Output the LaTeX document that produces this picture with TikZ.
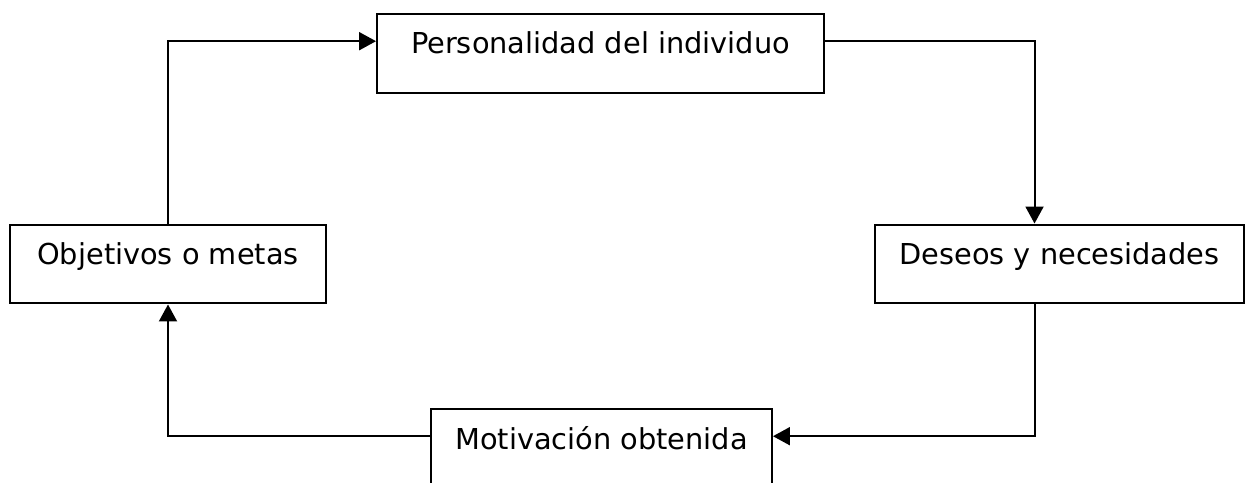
\documentclass[tikz,border=0pt]{standalone}
\usepackage{fontspec}
\setmainfont{DejaVu Sans}
\usetikzlibrary{positioning,arrows,arrows.meta,calc}
\tikzset{
  caja/.style={draw, line width=0.04cm, inner xsep=0pt, inner ysep=0pt,
    text height=0.8cm, text depth=0.78cm, font=\fontsize{16.4}{20}\selectfont},
  flecha/.style={line width=0.04cm, -{Triangle[length=0.34cm,width=0.36cm]}}
}
\begin{document}
\begin{tikzpicture}[x=0.02cm,y=-0.02cm]
        \useasboundingbox (0,0) rectangle (1250,483);
        \node[caja, minimum width=8.94cm] (pers) at (600.5,53.5) {Personalidad del individuo};
        \node[caja, minimum width=6.32cm] (obj) at (168,264) {Objetivos o metas};
        \node[caja, minimum width=7.38cm] (des) at (1059.5,264) {Deseos y necesidades};
        \node[caja, minimum width=6.82cm] (mot) at (601.5,448.5) {Motivación obtenida};
        \draw[flecha] (obj.north) |- ([yshift=0.16cm]pers.mid west);
        \draw[flecha] ([yshift=0.16cm]pers.mid east) -| ([xshift=-0.5cm]des.north);
        \draw[flecha] ([xshift=-0.5cm]des.south) |- ([yshift=0.16cm]mot.mid east);
        \draw[flecha] ([yshift=0.16cm]mot.mid west) -| (obj.south);
    \end{tikzpicture}
\end{document}
